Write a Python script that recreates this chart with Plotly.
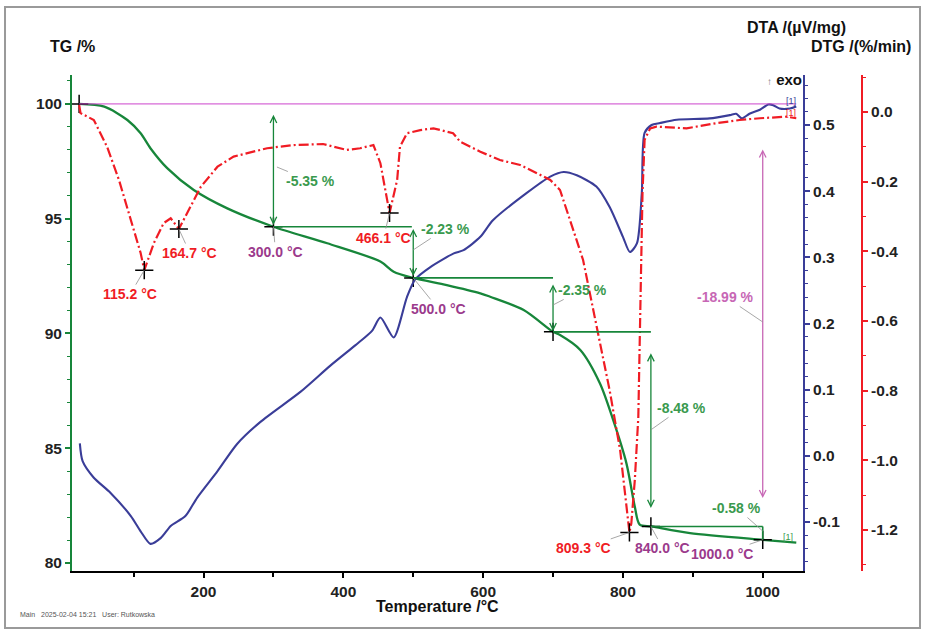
import plotly.graph_objects as go

# ---------------- data ----------------
temp_tg = [22, 58, 91, 110, 124, 148, 186, 234, 300, 377, 453, 472, 500, 548, 596, 610, 658,
           700, 710, 739, 767, 786, 805, 817, 824, 841, 896, 1000, 1048]
tg = [100.0, 99.88, 99.30, 98.72, 98.07, 97.2, 96.25, 95.45, 94.65, 93.93, 93.13, 92.69, 92.42,
      92.11, 91.75, 91.6, 91.02, 90.07, 89.93, 89.28, 87.83, 86.23, 84.34, 82.45, 81.67, 81.59,
      81.3, 81.01, 80.89]

temp_dta = [23, 27, 43, 67, 96, 110, 124, 139, 153, 174, 191, 220, 248, 281, 339, 381, 417, 441,
            453, 472, 491, 503, 524, 558, 572, 596, 614, 662, 696, 715, 734, 762, 781, 800, 810,
            820, 827, 831, 841, 853, 877, 924, 953, 962, 970, 981, 996, 1008, 1015, 1024, 1039, 1048]
dta = [0.019, -0.008, -0.033, -0.056, -0.091, -0.114, -0.133, -0.124, -0.106, -0.091, -0.063,
       -0.023, 0.018, 0.051, 0.097, 0.136, 0.167, 0.189, 0.209, 0.179, 0.24, 0.267, 0.285, 0.306,
       0.311, 0.331, 0.356, 0.397, 0.422, 0.429, 0.424, 0.407, 0.376, 0.331, 0.308, 0.321, 0.397,
       0.488, 0.5, 0.503, 0.508, 0.510, 0.515, 0.517, 0.510, 0.517, 0.523, 0.531, 0.530, 0.525,
       0.525, 0.528]

temp_dtg = [22, 24, 43, 62, 79, 96, 110, 115.2, 129, 143, 153, 164.7, 177, 196, 220, 243, 291, 329,
            371, 405, 424, 443, 453, 460, 466.1, 477, 481, 491, 510, 529, 557, 567, 596, 624, 653,
            677, 696, 710, 720, 729, 743, 762, 781, 796, 805, 809.3, 812, 817, 822, 824, 827, 828,
            831, 839, 848, 891, 934, 967, 996, 1034, 1048]
dtg = [0.02, -0.003, -0.023, -0.10, -0.195, -0.31, -0.405, -0.454, -0.376, -0.319, -0.305, -0.336,
       -0.29, -0.215, -0.157, -0.128, -0.104, -0.095, -0.092, -0.109, -0.104, -0.095, -0.147,
       -0.224, -0.29, -0.195, -0.10, -0.061, -0.052, -0.047, -0.061, -0.085, -0.114, -0.138,
       -0.152, -0.176, -0.195, -0.224, -0.282, -0.339, -0.425, -0.617, -0.799, -0.971, -1.144,
       -1.207, -1.181, -1.057, -0.876, -0.684, -0.425, -0.233, -0.08, -0.047, -0.042, -0.047,
       -0.032, -0.023, -0.018, -0.0135, -0.018]

tg_mark_temp = [22, 300, 500, 700, 840, 1000]
tg_mark = [100.0, 94.65, 92.42, 90.07, 81.59, 81.01]
tg_mark_labels = [None, "300.0 °C", "500.0 °C", None, "840.0 °C", "1000.0 °C"]
dtg_mark_temp = [115.2, 164.7, 466.1, 809.3]
dtg_mark = [-0.454, -0.336, -0.29, -1.207]
dtg_mark_labels = ["115.2 °C", "164.7 °C", "466.1 °C", "809.3 °C"]

# mass-loss steps
step_start = [300, 500, 700, 840]
step_end = [498, 700, 840, 1000]
step_level = [94.65, 92.42, 90.07, 81.59]
step_arrow_temp = [300, 500, 700, 840]
step_arrow_top = [99.59, 94.62, 92.2, 89.2]
step_arrow_bot = [94.73, 92.5, 90.1, 82.4]
step_labels = ["-5.35 %", "-2.23 %", "-2.35 %", "-8.48 %"]
last_step_label = "-0.58 %"
total_label = "-18.99 %"
total_arrow = [98.08, 82.83]

x_ticks = [200, 400, 600, 800, 1000]
x_minor = [100, 300, 500, 700, 900]
tg_ticks = [80, 85, 90, 95, 100]
dta_ticks = [-0.1, 0.0, 0.1, 0.2, 0.3, 0.4, 0.5]
dta_ticktext = ["-0.1", "0.0", "0.1", "0.2", "0.3", "0.4", "0.5"]
dtg_ticks = [0.0, -0.2, -0.4, -0.6, -0.8, -1.0, -1.2]
dtg_ticktext = ["0.0", "-0.2", "-0.4", "-0.6", "-0.8", "-1.0", "-1.2"]

# ---------------- styling ----------------
GREEN = "#17863a"
GREEN_T = "#3a9a4e"
BLUE = "#3a3d98"
RED = "#f01c24"
PURPLE = "#9b3a8c"
PINK = "#c767b5"
MAGENTA = "#cc44cc"
LEADER = "#909090"
FONT = "Liberation Sans, Arial, sans-serif"
TICKFONT = dict(family=FONT, size=15.5, color="#222", weight="bold")

fig = go.Figure()
fig.add_trace(go.Scatter(x=temp_tg, y=tg, mode="lines", yaxis="y",
                         line=dict(color=GREEN, width=2.3, shape="spline", smoothing=0.8)))
fig.add_trace(go.Scatter(x=temp_dta, y=dta, mode="lines", yaxis="y2",
                         line=dict(color=BLUE, width=2.1, shape="spline", smoothing=0.7)))
fig.add_trace(go.Scatter(x=temp_dtg, y=dtg, mode="lines", yaxis="y3",
                         line=dict(color=RED, width=2.2, dash="10px,3px,2px,3px")))
fig.add_trace(go.Scatter(x=tg_mark_temp, y=tg_mark, mode="markers", yaxis="y",
                         marker=dict(symbol="cross-thin", size=13, color="black",
                                     line=dict(color="black", width=1.5))))
fig.add_trace(go.Scatter(x=dtg_mark_temp, y=dtg_mark, mode="markers", yaxis="y3",
                         marker=dict(symbol="cross-thin", size=13, color="black",
                                     line=dict(color="black", width=1.5))))

shapes = []
annotations = []

# pink 100 % reference line
shapes.append(dict(type="line", xref="x", yref="y", x0=tg_mark_temp[0], x1=temp_tg[-1],
                   y0=tg_mark[0], y1=tg_mark[0], line=dict(color=MAGENTA, width=1)))
# horizontal step lines
for s, e, lv in zip(step_start, step_end, step_level):
    shapes.append(dict(type="line", xref="x", yref="y", x0=s, x1=e, y0=lv, y1=lv,
                       line=dict(color=GREEN, width=1.6)))
# vertical double arrows
for t, top, bot in zip(step_arrow_temp, step_arrow_top, step_arrow_bot):
    annotations.append(dict(x=t, y=bot, ax=t, ay=top, xref="x", yref="y", axref="x", ayref="y",
                            text="", showarrow=True, arrowside="end+start", arrowhead=5,
                            arrowsize=1, arrowwidth=1.3, arrowcolor=GREEN))
# last small step (-0.58 %)
shapes.append(dict(type="line", xref="x", yref="y", x0=tg_mark_temp[5], x1=tg_mark_temp[5],
                   y0=step_level[3], y1=tg_mark[5], line=dict(color=GREEN, width=1.6)))
# total loss arrow
annotations.append(dict(x=tg_mark_temp[5], y=total_arrow[1], ax=tg_mark_temp[5], ay=total_arrow[0],
                        xref="x", yref="y", axref="x", ayref="y", text="", showarrow=True,
                        arrowside="end+start", arrowhead=5, arrowsize=1, arrowwidth=1.3,
                        arrowcolor=PINK))

def label(x, y, yref, text, color, ax, ay):
    annotations.append(dict(x=x, y=y, xref="x", yref=yref, text=text, showarrow=True,
                            arrowhead=0, arrowwidth=0.8, arrowcolor=LEADER, ax=ax, ay=ay,
                            font=dict(family=FONT, size=14, color=color, weight="bold")))

# temperature labels
dtg_off = [(-14, 24), (11, 24), (-6, 25), (-46, 16)]
for t, v, txt, (ax, ay) in zip(dtg_mark_temp, dtg_mark, dtg_mark_labels, dtg_off):
    label(t, v, "y3", txt, RED, ax, ay)
tg_off = [None, (2, 25), (25, 31), None, (12, 22), (-41, 14)]
for t, v, txt, off in zip(tg_mark_temp, tg_mark, tg_mark_labels, tg_off):
    if txt:
        label(t, v, "y", txt, PURPLE, off[0], off[1])

# percentage labels
label(step_arrow_temp[0] + 5, 97.25, "y", step_labels[0], GREEN_T, 34, 14)
label(step_arrow_temp[1], 93.64, "y", step_labels[1], GREEN_T, 32, -21)
label(step_arrow_temp[2], 91.24, "y", step_labels[2], GREEN_T, 29, -15)
label(step_arrow_temp[3], 85.8, "y", step_labels[3], GREEN_T, 31, -22)
label(tg_mark_temp[5], 81.39, "y", last_step_label, GREEN_T, -26, -23)
label(tg_mark_temp[5], 90.5, "y", total_label, PINK, -37, -25)

# small curve tags
annotations += [
    dict(x=1040, y=0.536, xref="x", yref="y2", text="[1]", showarrow=False,
         font=dict(family=FONT, size=9, color=BLUE)),
    dict(x=1040, y=-0.003, xref="x", yref="y3", text="[1]", showarrow=False,
         font=dict(family=FONT, size=9, color=RED)),
    dict(x=1036, y=81.13, xref="x", yref="y", text="[1]", showarrow=False,
         font=dict(family=FONT, size=9, color=GREEN_T)),
]

# axis titles / texts (paper coordinates)
def ptext(x, y, text, size, color="#111", bold=True, xanchor="center"):
    annotations.append(dict(x=x, y=y, xref="paper", yref="paper", text=text, showarrow=False,
                            xanchor=xanchor, yanchor="middle",
                            font=dict(family=FONT, size=size, color=color,
                                      weight="bold" if bold else "normal")))

ptext(0.0, 1.0565, "TG /%", 16)
ptext(0.9177, 1.0948, "DTA /(µV/mg)", 16)
ptext(0.9987, 1.0565, "DTG /(%/min)", 16)
ptext(0.9025, 0.99, "<span style='color:#777;font-size:10px'>↑</span> exo", 15)
ptext(0.463, -0.0725, "Temperature /°C", 16)
ptext(-0.068, -0.0887, "Main&nbsp;&nbsp;&nbsp;2025-02-04 15:21&nbsp;&nbsp;&nbsp;User: Rutkowska", 7,
      color="#555", bold=False, xanchor="left")

# outer frame
shapes.append(dict(type="rect", xref="paper", yref="paper", x0=-0.0848, x1=1.0734,
                   y0=-0.1149, y1=1.1371, line=dict(color="#9a9a9a", width=2)))

fig.update_layout(
    width=925, height=631,
    margin=dict(l=72, r=63, t=75, b=60, pad=0),
    paper_bgcolor="white", plot_bgcolor="white",
    showlegend=False, hovermode=False,
    font=dict(family=FONT),
    shapes=shapes, annotations=annotations,
    xaxis=dict(domain=[0, 0.9253], range=[11.8, 1057.6], showline=True, linecolor="black",
               linewidth=2, ticks="outside", ticklen=5, tickwidth=1.5, tickcolor="black",
               tickvals=x_ticks, ticktext=[str(v) for v in x_ticks], tickfont=TICKFONT,
               showgrid=False, zeroline=False,
               minor=dict(tickvals=x_minor, ticks="outside", ticklen=4, tickwidth=1.5,
                          tickcolor="black")),
    yaxis=dict(range=[79.65, 101.26], showline=True, linecolor=GREEN, linewidth=2,
               ticks="outside", ticklen=5, tickwidth=1.5, tickcolor=GREEN, tickvals=tg_ticks,
               ticktext=[str(v) for v in tg_ticks], tickfont=TICKFONT, showgrid=False,
               zeroline=False,
               minor=dict(tick0=0, dtick=1, ticks="outside", ticklen=3, tickwidth=1.2,
                          tickcolor=GREEN)),
    yaxis2=dict(overlaying="y", side="right", anchor="x", range=[-0.174, 0.5756],
                showline=True, linecolor=BLUE, linewidth=2, ticks="outside", ticklen=5,
                tickwidth=1.5, tickcolor=BLUE, tickvals=dta_ticks, ticktext=dta_ticktext,
                tickfont=TICKFONT, showgrid=False, zeroline=False,
                minor=dict(tick0=0, dtick=0.02, ticks="outside", ticklen=3, tickwidth=1.2,
                           tickcolor=BLUE)),
    yaxis3=dict(overlaying="y", side="right", anchor="free", position=1.0,
                range=[-1.3178, 0.1062], showline=True, linecolor=RED, linewidth=2,
                ticks="outside", ticklen=5, tickwidth=1.5, tickcolor=RED, tickvals=dtg_ticks,
                ticktext=dtg_ticktext, tickfont=TICKFONT, showgrid=False, zeroline=False,
                minor=dict(tick0=0, dtick=0.1, ticks="outside", ticklen=3, tickwidth=1.2,
                           tickcolor=RED)),
)

fig.write_html("out.html")
